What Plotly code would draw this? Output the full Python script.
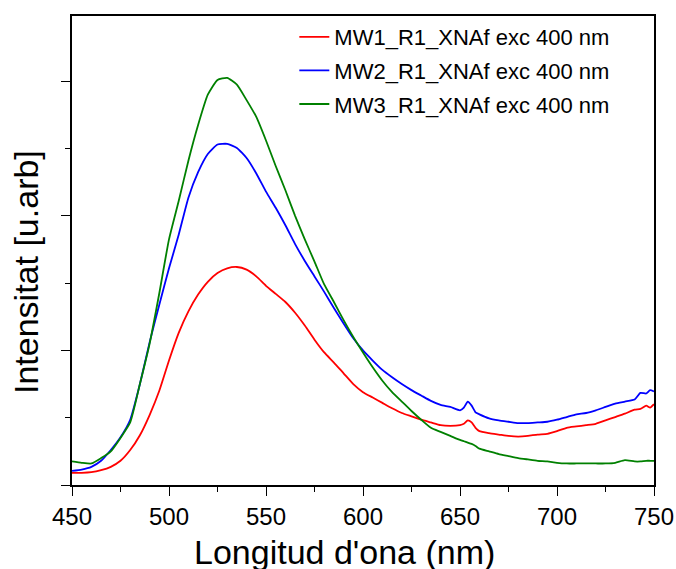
import plotly.graph_objects as go

wavelength = [450, 455, 460, 465, 470, 475, 480, 485, 490, 495, 500, 505, 510, 515, 520,
              525, 530, 535, 540, 545, 550, 555, 560, 565, 570, 575, 580, 585, 590, 595,
              600, 605, 610, 615, 620, 625, 630, 635, 640, 645, 650, 652, 654, 656, 658,
              660, 665, 670, 675, 680, 685, 690, 695, 700, 705, 710, 715, 720, 725, 730,
              735, 740, 743, 746, 748, 750]

mw1 = [0.18, 0.18, 0.19, 0.22, 0.27, 0.36, 0.52, 0.74, 1.04, 1.40, 1.85, 2.26, 2.58, 2.83, 3.02,
       3.15, 3.22, 3.24, 3.20, 3.10, 2.96, 2.84, 2.72, 2.56, 2.37, 2.16, 1.97, 1.82, 1.66, 1.50,
       1.38, 1.30, 1.22, 1.14, 1.07, 1.02, 0.97, 0.93, 0.89, 0.88, 0.89, 0.91, 0.96, 0.93, 0.85,
       0.80, 0.77, 0.75, 0.73, 0.72, 0.73, 0.75, 0.76, 0.80, 0.85, 0.87, 0.89, 0.91, 0.96, 1.01,
       1.06, 1.12, 1.13, 1.18, 1.15, 1.20]

mw2 = [0.21, 0.23, 0.27, 0.36, 0.52, 0.71, 0.97, 1.50, 2.12, 2.68, 3.22, 3.72, 4.27, 4.65, 4.92,
       5.06, 5.07, 5.01, 4.86, 4.63, 4.36, 4.12, 3.86, 3.58, 3.33, 3.10, 2.87, 2.63, 2.40, 2.18,
       2.00, 1.85, 1.71, 1.60, 1.50, 1.41, 1.33, 1.25, 1.19, 1.16, 1.11, 1.15, 1.24, 1.18, 1.08,
       1.05, 0.99, 0.96, 0.94, 0.92, 0.92, 0.93, 0.94, 0.97, 1.01, 1.05, 1.07, 1.11, 1.16, 1.21,
       1.24, 1.27, 1.37, 1.36, 1.41, 1.39]

mw3 = [0.35, 0.33, 0.32, 0.40, 0.50, 0.70, 0.93, 1.50, 2.10, 2.85, 3.65, 4.22, 4.82, 5.35, 5.80,
       6.02, 6.05, 5.95, 5.72, 5.47, 5.12, 4.74, 4.38, 4.00, 3.65, 3.32, 2.98, 2.72, 2.45, 2.20,
       1.97, 1.75, 1.55, 1.38, 1.24, 1.10, 0.97, 0.85, 0.79, 0.73, 0.67, 0.65, 0.63, 0.61, 0.58,
       0.54, 0.50, 0.46, 0.43, 0.40, 0.38, 0.36, 0.35, 0.33, 0.32, 0.32, 0.32, 0.32, 0.32, 0.33,
       0.37, 0.35, 0.35, 0.36, 0.36, 0.36]

series_names = ["MW1_R1_XNAf exc 400 nm", "MW2_R1_XNAf exc 400 nm", "MW3_R1_XNAf exc 400 nm"]
series_values = [mw1, mw2, mw3]
series_colors = ["#FF0000", "#0000FF", "#008000"]

x_ticks = [450, 500, 550, 600, 650, 700, 750]

FONT = "Liberation Sans, Arial, sans-serif"

fig = go.Figure()
for i, (name, vals, col) in enumerate(zip(series_names, series_values, series_colors)):
    fig.add_trace(go.Scatter(x=wavelength, y=vals, mode="lines", name=name,
                             legendgroup=f"g{i}",
                             line=dict(color=col, width=1.8, shape="spline", smoothing=0.5)))

fig.update_layout(
    width=676, height=569,
    margin=dict(l=72, r=22, t=16, b=84, autoexpand=False),
    paper_bgcolor="white", plot_bgcolor="white",
    font=dict(family=FONT, color="black"),
    showlegend=True,
    legend=dict(x=0.382, y=1.0, xanchor="left", yanchor="top",
                font=dict(size=22, family=FONT, color="black"),
                bgcolor="rgba(0,0,0,0)", tracegroupgap=2),
    annotations=[
        dict(text="Longitud d'ona (nm)", xref="paper", yref="paper",
             x=(344 - 72) / 582, y=(485 - 552) / 469, xanchor="center", yanchor="middle",
             showarrow=False, font=dict(size=34, family=FONT, color="black")),
        dict(text="Intensitat [u.arb]", xref="paper", yref="paper",
             x=(26 - 72) / 582, y=(485 - 272) / 469, xanchor="center", yanchor="middle",
             textangle=-90, showarrow=False, font=dict(size=34, family=FONT, color="black")),
    ],
)

fig.update_xaxes(
    range=[450, 750], tickvals=x_ticks, ticks="outside", ticklen=9, tickwidth=1.2,
    tickcolor="black", showline=True, linecolor="black", linewidth=1.5, mirror=True,
    showgrid=False, zeroline=False, automargin=False,
    tickfont=dict(size=24, family=FONT, color="black"),
    minor=dict(dtick=25, tick0=450, ticks="outside", ticklen=5, tickwidth=1.2, tickcolor="black", showgrid=False),
)
fig.update_yaxes(
    range=[0, 6.97], tick0=0, dtick=2, ticks="outside", ticklen=9, tickwidth=1.2,
    tickcolor="black", showticklabels=False, showline=True, linecolor="black",
    linewidth=1.5, mirror=True, showgrid=False, zeroline=False, automargin=False,
    minor=dict(dtick=1, tick0=0, ticks="outside", ticklen=5, tickwidth=1.2, tickcolor="black", showgrid=False),
)

fig.write_html("out.html", config={"displayModeBar": False},
               post_script="document.body.style.margin='0';document.body.style.overflow='hidden';")
